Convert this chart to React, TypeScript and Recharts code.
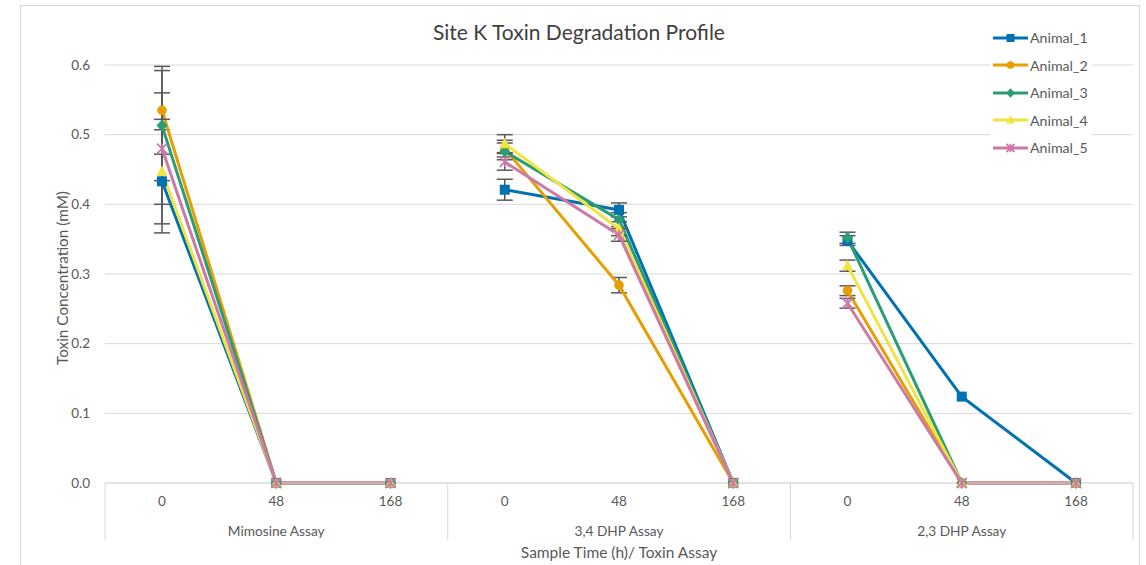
import React from "react";
import {
  LineChart,
  Line,
  XAxis,
  YAxis,
  CartesianGrid,
  ErrorBar,
} from "recharts";

const GROUPS = ["Mimosine Assay", "3,4 DHP Assay", "2,3 DHP Assay"];
const TIMES = ["0", "48", "168"];
const Y_TICKS = [0, 0.1, 0.2, 0.3, 0.4, 0.5, 0.6];

const ANIMALS = ["Animal_1", "Animal_2", "Animal_3", "Animal_4", "Animal_5"];
const COLORS = ["#0072B2", "#E69F00", "#2A9D74", "#F0E442", "#CC79A7"];
const SHAPES = ["square", "circle", "diamond", "triangle", "star"];

// one value per category: Mimosine 0/48/168, 3,4 DHP 0/48/168, 2,3 DHP 0/48/168
const ANIMAL_1 = [0.433, 0, 0, 0.421, 0.392, 0, 0.348, 0.124, 0];
const ANIMAL_2 = [0.535, 0, 0, 0.48, 0.284, 0, 0.276, 0, 0];
const ANIMAL_3 = [0.513, 0, 0, 0.476, 0.378, 0, 0.352, 0, 0];
const ANIMAL_4 = [0.447, 0, 0, 0.487, 0.365, 0, 0.312, 0, 0];
const ANIMAL_5 = [0.48, 0, 0, 0.461, 0.356, 0, 0.258, 0, 0];

const ERR_1 = [0.074, null, null, 0.015, 0.01, null, 0.007, null, null];
const ERR_2 = [0.063, null, null, 0.012, 0.011, null, 0.007, null, null];
const ERR_3 = [0.079, null, null, 0.012, 0.01, null, 0.008, null, null];
const ERR_4 = [0.075, null, null, 0.013, 0.01, null, 0.008, null, null];
const ERR_5 = [0.08, null, null, 0.012, 0.009, null, 0.007, null, null];

const VALUES = [ANIMAL_1, ANIMAL_2, ANIMAL_3, ANIMAL_4, ANIMAL_5];
const ERRORS = [ERR_1, ERR_2, ERR_3, ERR_4, ERR_5];

// each assay gets its own line segment, so lines break between groups
const data = GROUPS.flatMap((group, g) =>
  TIMES.map((time, t) => {
    const i = g * TIMES.length + t;
    const row: any = { id: `${group}|${time}`, time };
    VALUES.forEach((vals, k) => {
      row[`s${k}_${g}`] = vals[i];
      if (ERRORS[k][i] != null) row[`e${k}_${g}`] = ERRORS[k][i];
    });
    return row;
  })
);

const FONT = "Lato, 'Open Sans', sans-serif";
const TEXT = "#595959";
const GRID = "#d9d9d9";
const HALF_STEP = 57;

function Marker({ shape, color, cx, cy, s = 1 }: any) {
  if (cx == null || cy == null) return <g />;
  switch (shape) {
    case "square":
      return <rect x={cx - 5 * s} y={cy - 5 * s} width={10 * s} height={10 * s} fill={color} />;
    case "circle":
      return <circle cx={cx} cy={cy} r={4.8 * s} fill={color} />;
    case "diamond":
      return (
        <polygon
          points={`${cx},${cy - 6 * s} ${cx + 5.5 * s},${cy} ${cx},${cy + 6 * s} ${cx - 5.5 * s},${cy}`}
          fill={color}
        />
      );
    case "triangle":
      return (
        <polygon
          points={`${cx},${cy - 6 * s} ${cx + 5.5 * s},${cy + 4.5 * s} ${cx - 5.5 * s},${cy + 4.5 * s}`}
          fill={color}
        />
      );
    default:
      return (
        <g stroke={color} strokeWidth={1.8}>
          <line x1={cx - 5 * s} y1={cy - 5 * s} x2={cx + 5 * s} y2={cy + 5 * s} />
          <line x1={cx - 5 * s} y1={cy + 5 * s} x2={cx + 5 * s} y2={cy - 5 * s} />
          <line x1={cx} y1={cy - 5 * s} x2={cx} y2={cy + 5 * s} />
        </g>
      );
  }
}

function CategoryTick(props: any) {
  const { x, y, index } = props;
  const g = Math.floor(index / TIMES.length);
  const t = index % TIMES.length;
  const last = GROUPS.length * TIMES.length - 1;
  return (
    <g fontFamily={FONT}>
      <text x={x} y={y + 23} textAnchor="middle" fill={TEXT} fontSize={13.5}>
        {TIMES[t]}
      </text>
      {t === 1 && (
        <text x={x} y={y + 53} textAnchor="middle" fill={TEXT} fontSize={13.7}>
          {GROUPS[g]}
        </text>
      )}
      {t === 0 && (
        <line x1={x - HALF_STEP} x2={x - HALF_STEP} y1={y} y2={y + 57} stroke={GRID} />
      )}
      {index === last && (
        <line x1={x + HALF_STEP} x2={x + HALF_STEP} y1={y} y2={y + 57} stroke={GRID} />
      )}
      {index === Math.floor(last / 2) && (
        <text x={x} y={y + 75} textAnchor="middle" fill={TEXT} fontSize={15.5}>
          Sample Time (h)/ Toxin Assay
        </text>
      )}
    </g>
  );
}

function LegendBox() {
  return (
    <div
      style={{
        position: "absolute",
        left: 990,
        top: 24,
        background: "#fff",
        padding: "0 4px 0 2px",
        fontFamily: FONT,
      }}
    >
      {ANIMALS.map((name, k) => (
        <div key={name} style={{ display: "flex", alignItems: "center", height: 27.5 }}>
          <svg width={38} height={14}>
            <line x1={1} x2={36} y1={7} y2={7} stroke={COLORS[k]} strokeWidth={3} />
            <Marker shape={SHAPES[k]} color={COLORS[k]} cx={18.5} cy={7} s={0.8} />
          </svg>
          <span style={{ fontSize: 14.2, color: TEXT }}>{name}</span>
        </div>
      ))}
    </div>
  );
}

export default function App() {
  return (
    <div
      style={{
        position: "absolute",
        left: 0,
        top: 0,
        width: 1146,
        height: 565,
        overflow: "hidden",
        background: "#fff",
      }}
    >
      <div
        style={{
          position: "absolute",
          left: 20,
          top: 5,
          width: 1120,
          height: 640,
          border: `1.5px solid ${GRID}`,
          boxSizing: "border-box",
        }}
      />
      <div
        style={{
          position: "absolute",
          left: 0,
          width: 1158,
          top: 19,
          textAlign: "center",
          fontFamily: FONT,
          fontSize: 21,
          color: "#404040",
        }}
      >
        Site K Toxin Degradation Profile
      </div>
      <LineChart
        width={1146}
        height={565}
        data={data}
        margin={{ top: 65, right: 13, bottom: 0, left: 0 }}
        style={{ position: "absolute", left: 0, top: 0 }}
      >
        <CartesianGrid vertical={false} stroke={GRID} />
        <XAxis
          dataKey="id"
          interval={0}
          height={82}
          padding={{ left: HALF_STEP, right: HALF_STEP }}
          tickSize={0}
          tickMargin={0}
          tickLine={false}
          axisLine={{ stroke: GRID }}
          tick={<CategoryTick />}
        />
        <YAxis
          width={105}
          domain={[0, 0.6]}
          ticks={Y_TICKS}
          tickFormatter={(v: number) => v.toFixed(1)}
          axisLine={false}
          tickLine={false}
          tickSize={0}
          tickMargin={15}
          tick={{ fill: TEXT, fontSize: 13.5, fontFamily: FONT }}
          label={{
            content: ({ viewBox }: any) => {
              const cx = viewBox.x + 62;
              const cy = viewBox.y + viewBox.height / 2 + 4;
              return (
                <text
                  x={cx}
                  y={cy}
                  transform={`rotate(-90 ${cx} ${cy})`}
                  textAnchor="middle"
                  dominantBaseline="central"
                  fill={TEXT}
                  fontSize={15.3}
                  fontFamily={FONT}
                >
                  Toxin Concentration (mM)
                </text>
              );
            },
          }}
        />
        {ANIMALS.flatMap((name, k) =>
          GROUPS.map((_, g) => (
            <Line
              key={`${name}-${g}`}
              dataKey={`s${k}_${g}`}
              name={name}
              stroke={COLORS[k]}
              strokeWidth={3}
              isAnimationActive={false}
              legendType="none"
              dot={(p: any) => (
                <Marker
                  key={`${k}-${g}-${p.index}`}
                  shape={SHAPES[k]}
                  color={COLORS[k]}
                  cx={p.cx}
                  cy={p.cy}
                />
              )}
              activeDot={false}
            >
              <ErrorBar
                dataKey={`e${k}_${g}`}
                width={8}
                stroke="#595959"
                strokeWidth={1.5}
                direction="y"
              />
            </Line>
          ))
        )}
      </LineChart>
      <LegendBox />
    </div>
  );
}
